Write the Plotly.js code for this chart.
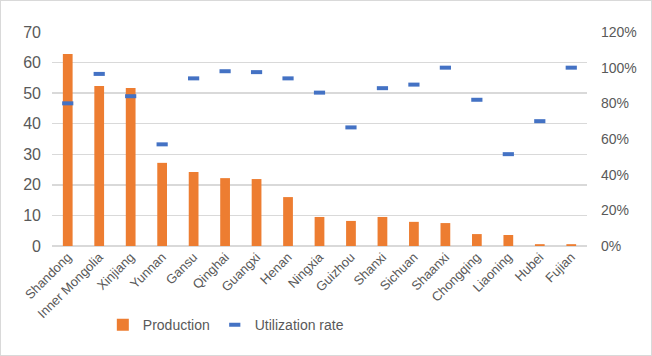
<!DOCTYPE html>
<html>
<head>
<meta charset="utf-8">
<script src="https://cdn.plot.ly/plotly-3.0.1.min.js"></script>
<style>
html,body{margin:0;padding:0;background:#fff;}
#wrap{width:652px;height:356px;box-sizing:border-box;border:1px solid #d9d9d9;position:relative;}
#chart{width:650px;height:354px;}
</style>
</head>
<body>
<div id="wrap"><div id="chart"></div></div>
<script>
const provinces = ["Shandong","Inner Mongolia","Xinjiang","Yunnan","Gansu","Qinghai","Guangxi","Henan","Ningxia","Guizhou","Shanxi","Sichuan","Shaanxi","Chongqing","Liaoning","Hubei","Fujian"];
const production = [62.8,52.3,51.7,27.2,24.2,22.2,21.9,16.0,9.5,8.2,9.5,7.9,7.5,3.9,3.6,0.6,0.6];
const utilization = [0.80,0.965,0.84,0.57,0.94,0.98,0.975,0.94,0.86,0.665,0.885,0.905,1.00,0.82,0.515,0.70,1.00];
const leftTicks = [0,10,20,30,40,50,60,70];
const rightTicks = [0,0.2,0.4,0.6,0.8,1.0,1.2];

const font = "Liberation Sans, Arial, sans-serif";
const grey = "#595959";

const traces = [
  {type:"bar", name:"Production", x:provinces, y:production,
   marker:{color:"#ED7D31"}, yaxis:"y"},
  {type:"scatter", mode:"markers", name:"Utilization rate", x:provinces, y:utilization,
   yaxis:"y2", marker:{symbol:"line-ew", size:8, color:"#4472C4", line:{color:"#4472C4", width:4}}}
];

const layout = {
  width:650, height:354,
  margin:{l:51, r:64, t:31, b:109},
  paper_bgcolor:"#fff", plot_bgcolor:"#fff",
  font:{family:font, color:grey, size:14},
  bargap:0.69,
  showlegend:true,
  legend:{orientation:"h", x:0.095, xanchor:"left", y:-0.37, yanchor:"middle",
          font:{size:14, color:grey}, itemwidth:30, traceorder:"normal"},
  xaxis:{type:"category", range:[-0.5, provinces.length-0.5], autorange:false,
         tickangle:-45, tickfont:{size:13, color:grey},
         showgrid:false, showline:false, ticks:"", zeroline:false, automargin:false},
  yaxis:{range:[0,70], tickvals:leftTicks, ticktext:leftTicks.map(String),
         tickfont:{size:16, color:grey}, showgrid:true, gridcolor:"#d9d9d9", gridwidth:1.5,
         zeroline:true, zerolinecolor:"#d9d9d9", zerolinewidth:1.5, showline:false, ticks:"",
         ticklabelstandoff:10, automargin:false},
  yaxis2:{range:[0,1.2], overlaying:"y", side:"right", tickvals:rightTicks,
          ticktext:rightTicks.map(v=>Math.round(v*100)+"%"),
          tickfont:{size:14, color:grey}, showgrid:false, zeroline:false, showline:false,
          ticks:"", ticklabelstandoff:13, automargin:false}
};

Plotly.newPlot("chart", traces, layout, {displayModeBar:false, staticPlot:true});
</script>
</body>
</html>
